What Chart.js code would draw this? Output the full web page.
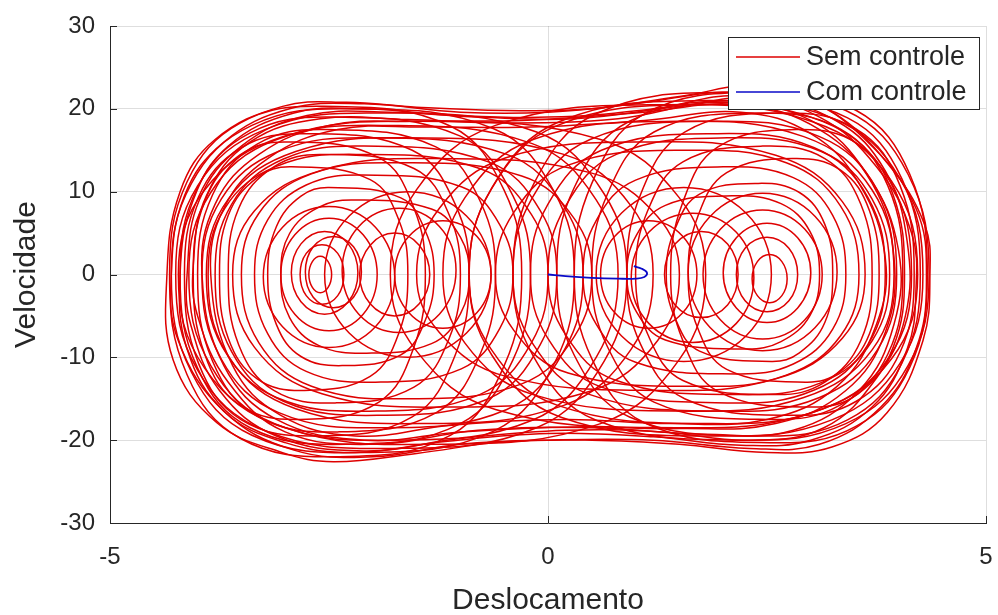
<!DOCTYPE html>
<html lang="pt">
<head>
    <meta charset="UTF-8">
    <title>Plano de fase - Deslocamento x Velocidade</title>
    <script src="https://cdn.jsdelivr.net/npm/chart.js"></script>
    <style>
        html, body { margin: 0; padding: 0; background: #fff; }
        #wrap { width: 998px; height: 615px; }
    </style>
</head>
<body>
    <div id="wrap"><canvas id="phaseChart" width="998" height="615"></canvas></div>

    <script>
        // Eixos (ticks)
        const xTicks = [-5, 0, 5];
        const yTicks = [-30, -20, -10, 0, 10, 20, 30];

        // Trajetoria com controle: [deslocamento, velocidade]
        const comControle = [[0, 0], [0.2, -0.2], [0.5, -0.4], [0.8, -0.5], [1.0, -0.5], [1.1, -0.3], [1.13, 0.2], [1.07, 0.7], [0.98, 1.0]];

        // Sem controle (todas as voltas sao fechadas)
        // voltas que passam pelos dois pocos
        const voltasDuplas = [
            [[-4.35,0],[-4.2,10],[-3.8,16.3],[-3.03,20.3],[-2.3,20.8],[-1.5,20.2],[-0.5,19.8],[0.5,20],[1.5,21.5],[2.5,22.8],[3.25,19.6],[3.87,13.5],[4.3,6],[4.36,0],[4.28,-8],[3.87,-16.7],[3.25,-20.8],[2.5,-21.5],[1.5,-20.5],[0.5,-20],[-0.5,-20.2],[-1.5,-21.6],[-2.45,-22.6],[-3.03,-21.5],[-3.78,-17.9],[-4.28,-10.3]],
            [[-4.2,0],[-4.05,9],[-3.65,15.5],[-2.9,19.5],[-2.1,20],[-1.2,19.3],[0,19],[1.2,20],[2.2,21.6],[3.1,19],[3.75,13],[4.15,5],[4.2,-2],[4.1,-9],[3.7,-16],[3,-20],[2.2,-20.6],[1.2,-19.6],[0,-19.2],[-1.2,-20.2],[-2.2,-21.5],[-3,-20.3],[-3.7,-16.5],[-4.12,-9]],
            [[-4.05,1],[-3.9,9.5],[-3.4,16],[-2.6,18.8],[-1.6,18.7],[-0.5,18.3],[0.8,18.8],[2,20.8],[3,18.6],[3.65,12],[4.0,3],[3.95,-6],[3.55,-14],[2.8,-18.8],[1.8,-19.3],[0.5,-18.5],[-0.8,-18.8],[-2,-20.5],[-3,-19],[-3.65,-13],[-4.0,-5]],
            [[-3.95,0],[-3.8,8.5],[-3.3,14.5],[-2.5,18],[-1.5,18.5],[-0.3,18.6],[1,19.5],[2.2,20.5],[3.1,17.5],[3.7,11],[3.95,2],[3.85,-7],[3.4,-14],[2.6,-18],[1.5,-18.6],[0.3,-18.4],[-1,-19],[-2.1,-20],[-3.1,-17.5],[-3.7,-11]],
            [[-4.3,0],[-4.15,9.5],[-3.7,16],[-2.95,20],[-2.1,20.6],[-1,19.6],[0,19.6],[1,20.6],[2,22],[2.9,21.2],[3.6,16.5],[4.2,8],[4.32,-1],[4.2,-9],[3.8,-16],[3.1,-20.5],[2.3,-21],[1.2,-20],[0,-20],[-1,-20.5],[-2,-22],[-2.9,-21.2],[-3.7,-16.5],[-4.22,-8]],
            [[-4.12,0],[-3.98,9],[-3.5,15.5],[-2.75,19.2],[-1.8,19.6],[-0.8,19],[0.3,18.8],[1.5,20.3],[2.4,21.3],[3.3,18.5],[3.85,12.5],[4.1,4],[4.08,-5],[3.75,-12.5],[3.15,-18.5],[2.3,-20],[1.3,-19],[0.2,-18.8],[-1,-19.8],[-2.1,-21.3],[-3.1,-19.5],[-3.75,-14],[-4.08,-6]],
            [[-3.85,0],[-3.7,8],[-3.2,14],[-2.4,17.5],[-1.4,17.8],[-0.2,17.8],[1.1,18.6],[2.2,19.6],[3.0,17],[3.55,11],[3.85,2],[3.75,-6],[3.3,-13.5],[2.5,-17.5],[1.4,-18],[0.2,-17.5],[-1.1,-18.2],[-2.2,-19.5],[-3.05,-17],[-3.6,-11]]
        ];

        // voltas grandes no poco da esquerda
        const pocoEsquerda = [
            [[0.3,0],[0.07,10],[-0.62,17.6],[-2.25,20],[-3.38,18],[-4.07,11],[-4.3,0],[-4.07,-11.8],[-3.38,-19.4],[-2.1,-21.5],[-0.62,-18.9],[0.07,-10.8]],
            [[-0.2,0],[-0.4,9.5],[-1.0,16.7],[-2.45,19],[-3.4,17.1],[-4.0,10.5],[-4.2,0],[-4.0,-11.3],[-3.4,-18.5],[-2.3,-20.5],[-1.0,-18],[-0.4,-10.3]],
            [[0.8,0],[0.55,9],[-0.18,15.8],[-1.9,18],[-3.12,16.2],[-3.85,9.9],[-4.1,0],[-3.85,-11],[-3.12,-18],[-1.75,-20],[-0.18,-17.6],[0.55,-10]],
            [[-0.6,0],[-0.77,8.75],[-1.28,15.4],[-2.55,17.5],[-3.32,15.75],[-3.83,9.6],[-4.0,0],[-3.83,-10.45],[-3.32,-17.1],[-2.4,-19],[-1.28,-16.7],[-0.77,-9.5]],
            [[1.2,0],[0.95,8.25],[0.18,14.5],[-1.6,16.5],[-2.88,14.85],[-3.65,9.1],[-3.9,0],[-3.65,-9.9],[-2.88,-16.2],[-1.45,-18],[0.18,-15.8],[0.95,-9]],
            [[0.1,0],[-0.09,7.75],[-0.68,13.6],[-2.1,15.5],[-3.02,13.95],[-3.61,8.5],[-3.8,0],[-3.61,-9.35],[-3.02,-15.3],[-1.95,-17],[-0.68,-15],[-0.09,-8.5]],
            [[-1.0,0],[-1.13,7.25],[-1.53,12.8],[-2.58,14.5],[-3.13,13],[-3.53,8],[-3.65,0],[-3.53,-8.5],[-3.13,-14],[-2.43,-15.5],[-1.53,-13.6],[-1.13,-7.75]],
            [[0.5,0],[0.3,6.75],[-0.3,11.9],[-1.75,13.5],[-2.7,12.15],[-3.3,7.4],[-3.5,0],[-3.3,-8.25],[-2.7,-13.5],[-1.6,-15],[-0.3,-13.2],[0.3,-7.5]],
            [[-0.4,0],[-0.55,6],[-0.99,10.6],[-2.12,12],[-2.76,10.8],[-3.2,6.6],[-3.35,0],[-3.2,-7.15],[-2.76,-11.7],[-1.97,-13],[-0.99,-11.4],[-0.55,-6.5]],
            [[-1.3,0],[-1.4,5.25],[-1.68,9.25],[-2.5,10.5],[-2.82,9.45],[-3.1,5.8],[-3.2,0],[-3.1,-6.05],[-2.82,-9.9],[-2.35,-11],[-1.68,-9.7],[-1.4,-5.5]],
            [[-0.9,0],[-1.0,4.5],[-1.33,7.9],[-2.22,9],[-2.62,8.1],[-2.95,4.95],[-3.05,0],[-2.95,-5.2],[-2.62,-8.55],[-2.07,-9.5],[-1.33,-8.35],[-1.0,-4.75]],
            [[0.9,0],[0.64,9.75],[-0.13,17.2],[-1.93,19.5],[-3.22,17.55],[-4.0,10.7],[-4.25,0],[-4.0,-11.55],[-3.22,-18.9],[-1.78,-21],[-0.13,-18.5],[0.64,-10.5]],
            [[-0.9,0],[-1.06,8.5],[-1.55,15],[-2.78,17],[-3.5,15.3],[-3.99,9.35],[-4.15,0],[-3.99,-10.7],[-3.5,-17.55],[-2.63,-19.5],[-1.55,-17.2],[-1.06,-9.75]],
            [[0.4,0],[0.18,8.25],[-0.47,14.5],[-2.03,16.5],[-3.08,14.85],[-3.73,9.1],[-3.95,0],[-3.73,-10.2],[-3.08,-16.65],[-1.88,-18.5],[-0.47,-16.3],[0.18,-9.25]],
            [[-1.6,0],[-1.7,6.5],[-2.03,11.45],[-2.93,13],[-3.32,11.7],[-3.65,7.15],[-3.75,0],[-3.65,-7.7],[-3.32,-12.6],[-2.78,-14],[-2.03,-12.3],[-1.7,-7]],
            [[1.5,0],[1.25,7],[0.48,12.3],[-1.3,14],[-2.58,12.6],[-3.35,7.7],[-3.6,0],[-3.35,-8.8],[-2.58,-14.4],[-1.15,-16],[0.48,-14.1],[1.25,-8]],
            [[-0.3,0],[-0.5,10.15],[-1.11,17.9],[-2.56,20.3],[-3.51,18.3],[-4.12,11.2],[-4.32,0],[-4.12,-12.1],[-3.51,-19.8],[-2.41,-22],[-1.11,-19.4],[-0.5,-11]],
            [[1.8,0],[1.5,9.25],[0.6,16.3],[-1.46,18.5],[-3.02,16.65],[-3.92,10.2],[-4.22,0],[-3.92,-11.3],[-3.02,-18.45],[-1.31,-20.5],[0.6,-18],[1.5,-10.25]],
            [[-1.4,0],[-1.53,8],[-1.93,14.1],[-2.98,16],[-3.52,14.4],[-3.92,8.8],[-4.05,0],[-3.92,-9.6],[-3.52,-15.75],[-2.83,-17.5],[-1.93,-15.4],[-1.53,-8.75]],
            [[0,0],[-0.19,7.25],[-0.78,12.8],[-2.19,14.5],[-3.1,13.05],[-3.69,8],[-3.88,0],[-3.69,-9.1],[-3.1,-14.85],[-2.04,-16.5],[-0.78,-14.5],[-0.19,-8.25]]
        ];

        // voltas grandes no poco da direita
        const pocoDireita = [
            [[-0.4,0],[-0.16,-10],[0.55,-17.6],[2.22,-20],[3.4,-18],[4.11,-11],[4.35,0],[4.11,12.1],[3.4,19.8],[2.08,22],[0.55,19.4],[-0.16,11]],
            [[0.1,0],[0.3,-9.75],[0.93,-17.2],[2.42,-19.5],[3.42,-17.55],[4.04,-10.7],[4.25,0],[4.04,11.55],[3.42,18.9],[2.28,21],[0.93,18.5],[0.3,10.5]],
            [[-0.9,0],[-0.65,-9],[0.11,-15.8],[1.88,-18],[3.14,-16.2],[3.9,-9.9],[4.15,0],[3.9,11.3],[3.14,18.45],[1.73,20.5],[0.11,18],[-0.65,10.25]],
            [[0.5,0],[0.68,-8.75],[1.21,-15.4],[2.53,-17.5],[3.34,-15.75],[3.88,-9.6],[4.05,0],[3.88,10.7],[3.34,17.55],[2.38,19.5],[1.21,17.2],[0.68,9.75]],
            [[-1.2,0],[-0.95,-8.25],[-0.17,-14.5],[1.63,-16.5],[2.92,-14.85],[3.7,-9.1],[3.95,0],[3.7,10.2],[2.92,16.65],[1.48,18.5],[-0.17,16.3],[-0.95,9.25]],
            [[-0.2,0],[0.0,-7.75],[0.61,-13.6],[2.08,-15.5],[3.04,-13.95],[3.65,-8.5],[3.85,0],[3.65,9.35],[3.04,15.3],[1.93,17],[0.61,15],[0.0,8.5]],
            [[1.0,0],[1.14,-7.25],[1.54,-12.8],[2.6,-14.5],[3.16,-13],[3.57,-8],[3.7,0],[3.57,8.5],[3.16,14],[2.45,15.5],[1.54,13.6],[1.14,7.75]],
            [[-0.6,0],[-0.39,-6.75],[0.23,-11.9],[1.73,-13.5],[2.72,-12.15],[3.34,-7.4],[3.55,0],[3.34,8.25],[2.72,13.5],[1.58,15],[0.23,13.2],[-0.39,7.5]],
            [[0.4,0],[0.55,-6],[1.0,-10.6],[2.15,-12],[2.8,-10.8],[3.25,-6.6],[3.4,0],[3.25,7.15],[2.8,11.7],[2.0,13],[1.0,11.4],[0.55,6.5]],
            [[1.35,0],[1.45,-5.25],[1.73,-9.25],[2.55,-10.5],[2.87,-9.45],[3.16,-5.8],[3.25,0],[3.16,6.05],[2.87,9.9],[2.4,11],[1.73,9.7],[1.45,5.5]],
            [[0.9,0],[1.01,-4.5],[1.34,-7.9],[2.25,-9],[2.66,-8.1],[2.99,-4.95],[3.1,0],[2.99,5.2],[2.66,8.55],[2.1,9.5],[1.34,8.35],[1.01,4.75]],
            [[-0.9,0],[-0.64,-9.75],[0.14,-17.2],[1.94,-19.5],[3.24,-17.55],[4.02,-10.7],[4.28,0],[4.02,11.55],[3.24,18.9],[1.79,21],[0.14,18.5],[-0.64,10.5]],
            [[0.9,0],[1.06,-8.5],[1.56,-15],[2.79,-17],[3.52,-15.3],[4.02,-9.35],[4.18,0],[4.02,10.7],[3.52,17.55],[2.64,19.5],[1.56,17.2],[1.06,9.75]],
            [[-0.4,0],[-0.18,-8.25],[0.48,-14.5],[2.04,-16.5],[3.1,-14.85],[3.76,-9.1],[3.98,0],[3.76,10.2],[3.1,16.65],[1.89,18.5],[0.48,16.3],[-0.18,9.25]],
            [[1.6,0],[1.71,-6.5],[2.04,-11.45],[2.94,-13],[3.34,-11.7],[3.67,-7.15],[3.78,0],[3.67,7.7],[3.34,12.6],[2.79,14],[2.04,12.3],[1.71,7]],
            [[-1.5,0],[-1.24,-7],[-0.48,-12.3],[1.31,-14],[2.6,-12.6],[3.36,-7.7],[3.62,0],[3.36,8.8],[2.6,14.4],[1.16,16],[-0.48,14.1],[-1.24,8]],
            [[0.3,0],[0.5,-10.15],[1.1,-17.9],[2.56,-20.3],[3.52,-18.3],[4.13,-11.2],[4.33,0],[4.13,12.1],[3.52,19.8],[2.41,22],[1.1,19.4],[0.5,11]],
            [[-1.8,0],[-1.5,-9.25],[-0.6,-16.3],[1.46,-18.5],[3.02,-16.65],[3.92,-10.2],[4.22,0],[3.92,11.3],[3.02,18.45],[1.31,20.5],[-0.6,18],[-1.5,10.25]],
            [[1.4,0],[1.54,-8],[1.94,-14.1],[2.99,-16],[3.54,-14.4],[3.94,-8.8],[4.07,0],[3.94,9.6],[3.54,15.75],[2.84,17.5],[1.94,15.4],[1.54,8.75]],
            [[0,0],[0.2,-7.25],[0.78,-12.8],[2.2,-14.5],[3.12,-13.05],[3.7,-8],[3.9,0],[3.7,9.1],[3.12,14.85],[2.05,16.5],[0.78,14.5],[0.2,8.25]]
        ];

        // aneis pequenos em torno dos pontos de equilibrio
        const aneisEsquerda = [
            [[-2.47,0],[-2.51,1.56],[-2.6,2.2],[-2.69,1.56],[-2.73,0],[-2.69,-1.56],[-2.6,-2.2],[-2.51,-1.56]],
            [[-2.33,0],[-2.4,2.55],[-2.58,3.6],[-2.76,2.55],[-2.83,0],[-2.76,-2.55],[-2.58,-3.6],[-2.4,-2.55]],
            [[-2.17,0.2],[-2.28,3.7],[-2.55,5.2],[-2.82,3.7],[-2.93,0.2],[-2.82,-3.3],[-2.55,-4.8],[-2.28,-3.3]],
            [[-1.95,0],[-2.11,4.8],[-2.5,6.8],[-2.89,4.8],[-3.05,0],[-2.89,-4.8],[-2.5,-6.8],[-2.11,-4.8]],
            [[-1.75,-0.3],[-1.97,5.7],[-2.5,8.2],[-3.03,5.7],[-3.25,-0.3],[-3.03,-6.3],[-2.5,-8.8],[-1.97,-6.3]],
            [[-2.13,0.3],[-2.22,3.34],[-2.45,4.6],[-2.68,3.34],[-2.77,0.3],[-2.68,-2.74],[-2.45,-4.0],[-2.22,-2.74]]
        ];
        const aneisDireita = [
            [[2.73,-0.5],[2.67,1.55],[2.53,2.4],[2.39,1.55],[2.33,-0.5],[2.39,-2.55],[2.53,-3.4],[2.67,-2.55]],
            [[2.85,0],[2.75,3.18],[2.5,4.5],[2.25,3.18],[2.15,0],[2.25,-3.18],[2.5,-4.5],[2.75,-3.18]],
            [[3.0,0.2],[2.85,4.44],[2.5,6.2],[2.15,4.44],[2.0,0.2],[2.15,-4.04],[2.5,-5.8],[2.85,-4.04]],
            [[3.13,0],[2.93,5.5],[2.45,7.8],[1.97,5.5],[1.77,0],[1.97,-5.5],[2.45,-7.8],[2.93,-5.5]],
            [[3.3,0.3],[3.05,7.0],[2.45,9.8],[1.85,7.0],[1.6,0.3],[1.85,-6.4],[2.45,-9.2],[3.05,-6.4]]
        ];

        // voltas medias perto do centro
        const voltasMedias = [
            [[-1.35,0],[-1.47,3.54],[-1.75,5],[-2.03,3.54],[-2.15,0],[-2.03,-3.54],[-1.75,-5],[-1.47,-3.54]],
            [[-1.05,0.5],[-1.24,5.8],[-1.7,8],[-2.16,5.8],[-2.35,0.5],[-2.16,-4.8],[-1.7,-7],[-1.24,-4.8]],
            [[-0.65,0],[-0.93,7.07],[-1.6,10],[-2.27,7.07],[-2.55,0],[-2.27,-7.07],[-1.6,-10],[-0.93,-7.07]],
            [[-0.65,0],[-0.81,4.6],[-1.2,6.5],[-1.59,4.6],[-1.75,0],[-1.59,-4.6],[-1.2,-6.5],[-0.81,-4.6]],
            [[2.17,0],[2.05,3.68],[1.75,5.2],[1.45,3.68],[1.33,0],[1.45,-3.68],[1.75,-5.2],[2.05,-3.68]],
            [[2.35,-0.4],[2.15,5.1],[1.65,7.4],[1.15,5.1],[0.95,-0.4],[1.15,-5.9],[1.65,-8.2],[2.15,-5.9]],
            [[2.55,0],[2.26,7.42],[1.55,10.5],[0.84,7.42],[0.55,0],[0.84,-7.42],[1.55,-10.5],[2.26,-7.42]],
            [[1.7,0],[1.54,4.6],[1.15,6.5],[0.76,4.6],[0.6,0],[0.76,-4.6],[1.15,-6.5],[1.54,-4.6]]
        ];

        const corSem = 'rgb(222, 0, 0)';
        const corCom = 'rgb(10, 10, 200)';
        const fonte = "'Liberation Sans', Arial, sans-serif";

        function toPoints(pares) {
            return pares.map(p => ({ x: p[0], y: p[1] }));
        }

        // monta os datasets (azul primeiro para ficar por cima)
        const datasets = [{
            label: 'Com controle',
            data: toPoints(comControle),
            borderColor: corCom,
            borderWidth: 1.8,
            tension: 0.4,
            fechada: false
        }];
        const todasVoltas = [].concat(voltasDuplas, pocoEsquerda, pocoDireita, aneisEsquerda, aneisDireita, voltasMedias);
        todasVoltas.forEach((volta, i) => {
            datasets.push({
                label: i === 0 ? 'Sem controle' : '',
                data: toPoints(volta),
                borderColor: corSem,
                borderWidth: 1.5,
                tension: 0.4,
                fechada: true
            });
        });

        // fecha as voltas com curva suave (como o radar faz)
        const fechaVoltas = {
            id: 'fechaVoltas',
            afterDatasetUpdate(chart, args) {
                const ds = chart.data.datasets[args.index];
                if (ds.fechada && args.meta.dataset) {
                    args.meta.dataset._loop = true;
                    args.meta.dataset._fullLoop = true;
                }
            }
        };

        // ticks para dentro, estilo matlab, e legenda dentro do grafico
        const matlabExtras = {
            id: 'matlabExtras',
            afterDraw(chart) {
                const ctx = chart.ctx;
                const a = chart.chartArea;
                const xs = chart.scales.x, ys = chart.scales.y;
                ctx.save();
                ctx.strokeStyle = '#262626';
                ctx.lineWidth = 1;
                ctx.beginPath();
                yTicks.forEach(v => {
                    const py = Math.round(ys.getPixelForValue(v)) + 0.5;
                    ctx.moveTo(a.left, py); ctx.lineTo(a.left + 7, py);
                });
                xTicks.forEach(v => {
                    const px = Math.round(xs.getPixelForValue(v)) + 0.5;
                    ctx.moveTo(px, a.bottom); ctx.lineTo(px, a.bottom - 7);
                });
                ctx.stroke();

                // legenda
                const box = { x: 728.5, y: 37.5, w: 251, h: 72 };
                ctx.fillStyle = '#fff';
                ctx.fillRect(box.x, box.y, box.w, box.h);
                ctx.strokeStyle = '#262626';
                ctx.strokeRect(box.x, box.y, box.w, box.h);
                const itens = [chart.data.datasets[1], chart.data.datasets[0]];
                itens.forEach((ds, i) => {
                    const cy = 57 + i * 35;
                    ctx.strokeStyle = ds.borderColor;
                    ctx.lineWidth = 1.3;
                    ctx.beginPath();
                    ctx.moveTo(736, cy); ctx.lineTo(800, cy);
                    ctx.stroke();
                    ctx.fillStyle = '#262626';
                    ctx.font = '27px ' + fonte;
                    ctx.textBaseline = 'middle';
                    ctx.fillText(ds.label, 806, cy + 1);
                });
                ctx.restore();
            }
        };

        new Chart(document.getElementById('phaseChart'), {
            type: 'scatter',
            data: { datasets: datasets },
            options: {
                responsive: false,
                animation: false,
                layout: { padding: { top: 26, right: 12, left: 0, bottom: 0 } },
                elements: { point: { radius: 0 }, line: { fill: false } },
                datasets: { scatter: { showLine: true } },
                plugins: { legend: { display: false }, tooltip: { enabled: false } },
                scales: {
                    x: {
                        type: 'linear',
                        min: -5, max: 5,
                        afterBuildTicks: s => { s.ticks = xTicks.map(v => ({ value: v })); },
                        afterFit: s => { s.height = 92; s.paddingLeft = 0; s.paddingRight = 0; },
                        grid: { color: 'rgba(0,0,0,0.13)', drawTicks: false },
                        border: { color: '#262626', width: 1 },
                        ticks: { color: '#262626', font: { family: fonte, size: 24 }, padding: 20 },
                        title: { display: true, text: 'Deslocamento', color: '#262626', font: { family: fonte, size: 30 }, padding: { top: 0, bottom: -4 } }
                    },
                    y: {
                        type: 'linear',
                        min: -30, max: 30,
                        afterBuildTicks: s => { s.ticks = yTicks.map(v => ({ value: v })); },
                        afterFit: s => { s.width = 110; s.paddingTop = 0; s.paddingBottom = 0; },
                        grid: { color: 'rgba(0,0,0,0.13)', drawTicks: false },
                        border: { color: '#262626', width: 1 },
                        ticks: { color: '#262626', font: { family: fonte, size: 24 }, padding: 15 },
                        title: { display: true, text: 'Velocidade', color: '#262626', font: { family: fonte, size: 30 }, padding: { top: 9, bottom: 0 } }
                    }
                }
            },
            plugins: [fechaVoltas, matlabExtras]
        });
    </script>
</body>
</html>
